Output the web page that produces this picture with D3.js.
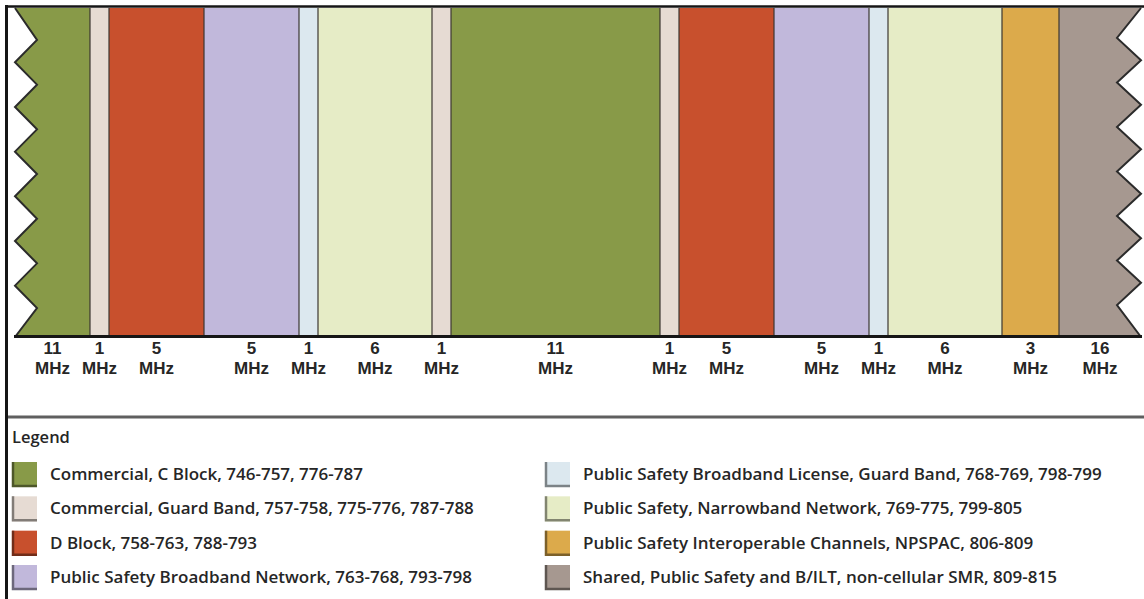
<!DOCTYPE html>
<html>
<head>
<meta charset="utf-8">
<script src="https://cdn.jsdelivr.net/npm/d3@7"></script>
<style>
  html, body { margin: 0; padding: 0; background: #fff; }
  svg { display: block; }
  text { font-family: "Open Sans", "DejaVu Sans", sans-serif; fill: #262626; }
  .mhz text { font-family: "Liberation Sans", Arial, sans-serif; }
</style>
</head>
<body>
<svg id="chart" width="1144" height="599"></svg>
<script>
// band plan, left to right (MHz per block, legend category per block)
const segMHz = [11, 1, 5, 5, 1, 6, 1, 11, 1, 5, 5, 1, 6, 3, 16];
const segCat = [0, 1, 2, 3, 4, 5, 1, 0, 1, 2, 3, 4, 5, 6, 7];
const unitLabel = "MHz";

const legendTitle = "Legend";
const categories = [
  "Commercial, C Block, 746-757, 776-787",
  "Commercial, Guard Band, 757-758, 775-776, 787-788",
  "D Block, 758-763, 788-793",
  "Public Safety Broadband Network, 763-768, 793-798",
  "Public Safety Broadband License, Guard Band, 768-769, 798-799",
  "Public Safety, Narrowband Network, 769-775, 799-805",
  "Public Safety Interoperable Channels, NPSPAC, 806-809",
  "Shared, Public Safety and B/ILT, non-cellular SMR, 809-815"
];
const palette = ["#889a48", "#e6dbd3", "#c8502d", "#c1b8db", "#dce8ef", "#e6ecc6", "#dcaa4b", "#a69890"];

const svg = d3.select("#chart");
const color = d3.scaleOrdinal(d3.range(categories.length), palette);

// cumulative MHz -> px (19 px per MHz); the outer blocks run past the torn edges
const starts = [0, ...d3.cumsum(segMHz)];
const x = d3.scaleLinear().domain([11, 62]).range([90, 1059]);
const yTop = 8, yBot = 335;

const segs = segMHz.map((m, i) => ({ mhz: m, cat: segCat[i], x0: x(starts[i]), x1: x(starts[i + 1]) }));

// torn (zigzag) edges
const leftIn = 15, leftOut = 37, rightOut = 1141, rightIn = 1117;
const leftEdge = [[leftIn, yTop]];
for (let k = 0; k < 7; k++) {
    leftEdge.push([leftOut, 40 + k * 44.67]);
    if (k < 6) leftEdge.push([leftIn, 62.3 + k * 44.67]);
}
leftEdge.push([leftIn, yBot + 2]);
const rightEdge = [[rightOut, yTop]];
for (let k = 0; k < 7; k++) {
    rightEdge.push([rightIn, 38 + k * 44.5]);
    if (k < 6) rightEdge.push([rightOut, 60.3 + k * 44.5]);
}
rightEdge.push([rightOut, yBot + 2]);

const clipPoly = leftEdge.concat(rightEdge.slice().reverse());
svg.append("defs").append("clipPath").attr("id", "band")
    .append("polygon").attr("points", clipPoly.map(p => p.join(",")).join(" "));

const band = svg.append("g").attr("clip-path", "url(#band)");
band.selectAll("rect.seg").data(segs).join("rect")
    .attr("class", "seg")
    .attr("x", d => d.x0).attr("y", yTop)
    .attr("width", d => d.x1 - d.x0).attr("height", yBot - yTop + 2)
    .attr("fill", d => color(d.cat));
band.selectAll("line.sep").data(segs.slice(1)).join("line")
    .attr("class", "sep")
    .attr("x1", d => d.x0).attr("x2", d => d.x0)
    .attr("y1", yTop).attr("y2", yBot)
    .attr("stroke", "#3b3631").attr("stroke-width", 1.2);

const line = d3.line();
[leftEdge, rightEdge].forEach(e => {
    svg.append("path").attr("d", line(e))
        .attr("fill", "none").attr("stroke", "#2b2b2b")
        .attr("stroke-width", 2).attr("stroke-linejoin", "miter");
});

// base line under the bands
svg.append("line").attr("x1", leftIn - 1).attr("x2", rightOut + 1)
    .attr("y1", yBot + 1.5).attr("y2", yBot + 1.5)
    .attr("stroke", "#161616").attr("stroke-width", 3);

// frame
svg.append("line").attr("x1", 5).attr("x2", 1144).attr("y1", 6.5).attr("y2", 6.5)
    .attr("stroke", "#161616").attr("stroke-width", 2.5);
svg.append("line").attr("x1", 6.5).attr("x2", 6.5).attr("y1", 5).attr("y2", 599)
    .attr("stroke", "#161616").attr("stroke-width", 3);
svg.append("line").attr("x1", 8).attr("x2", 1144).attr("y1", 417).attr("y2", 417)
    .attr("stroke", "#5f5f5f").attr("stroke-width", 3);

// MHz labels, centred on the visible part of each block
const lab = svg.append("g").attr("class", "mhz").attr("text-anchor", "middle")
    .style("font-size", "17px").style("font-weight", 700);
const labG = lab.selectAll("g").data(segs).join("g")
    .attr("transform", d => `translate(${(Math.max(d.x0, leftIn) + Math.min(d.x1, rightOut)) / 2},0)`);
labG.append("text").attr("y", 354).text(d => d.mhz);
labG.append("text").attr("y", 374).text(unitLabel);

// legend
svg.append("text").attr("x", 12).attr("y", 443)
    .style("font-size", "16.5px").style("font-weight", 600).text(legendTitle);

const rowY = d3.scaleLinear().domain([0, 3]).range([474, 577]);
const colX = [12, 545];
const item = svg.append("g").selectAll("g").data(categories).join("g")
    .attr("transform", (d, i) => `translate(${colX[Math.floor(i / 4)]},${rowY(i % 4)})`);
item.append("rect").attr("x", 0).attr("y", -12).attr("width", 25).attr("height", 25)
    .attr("fill", (d, i) => color(i));
item.append("path").attr("d", "M1,-12V12H25")
    .attr("fill", "none").attr("stroke-width", 2.5)
    .attr("stroke", (d, i) => d3.color(color(i)).darker(1.6));
item.append("text").attr("x", 38).attr("y", 6)
    .style("font-size", "17px").style("font-weight", 600)
    .text(d => d);
</script>
</body>
</html>
